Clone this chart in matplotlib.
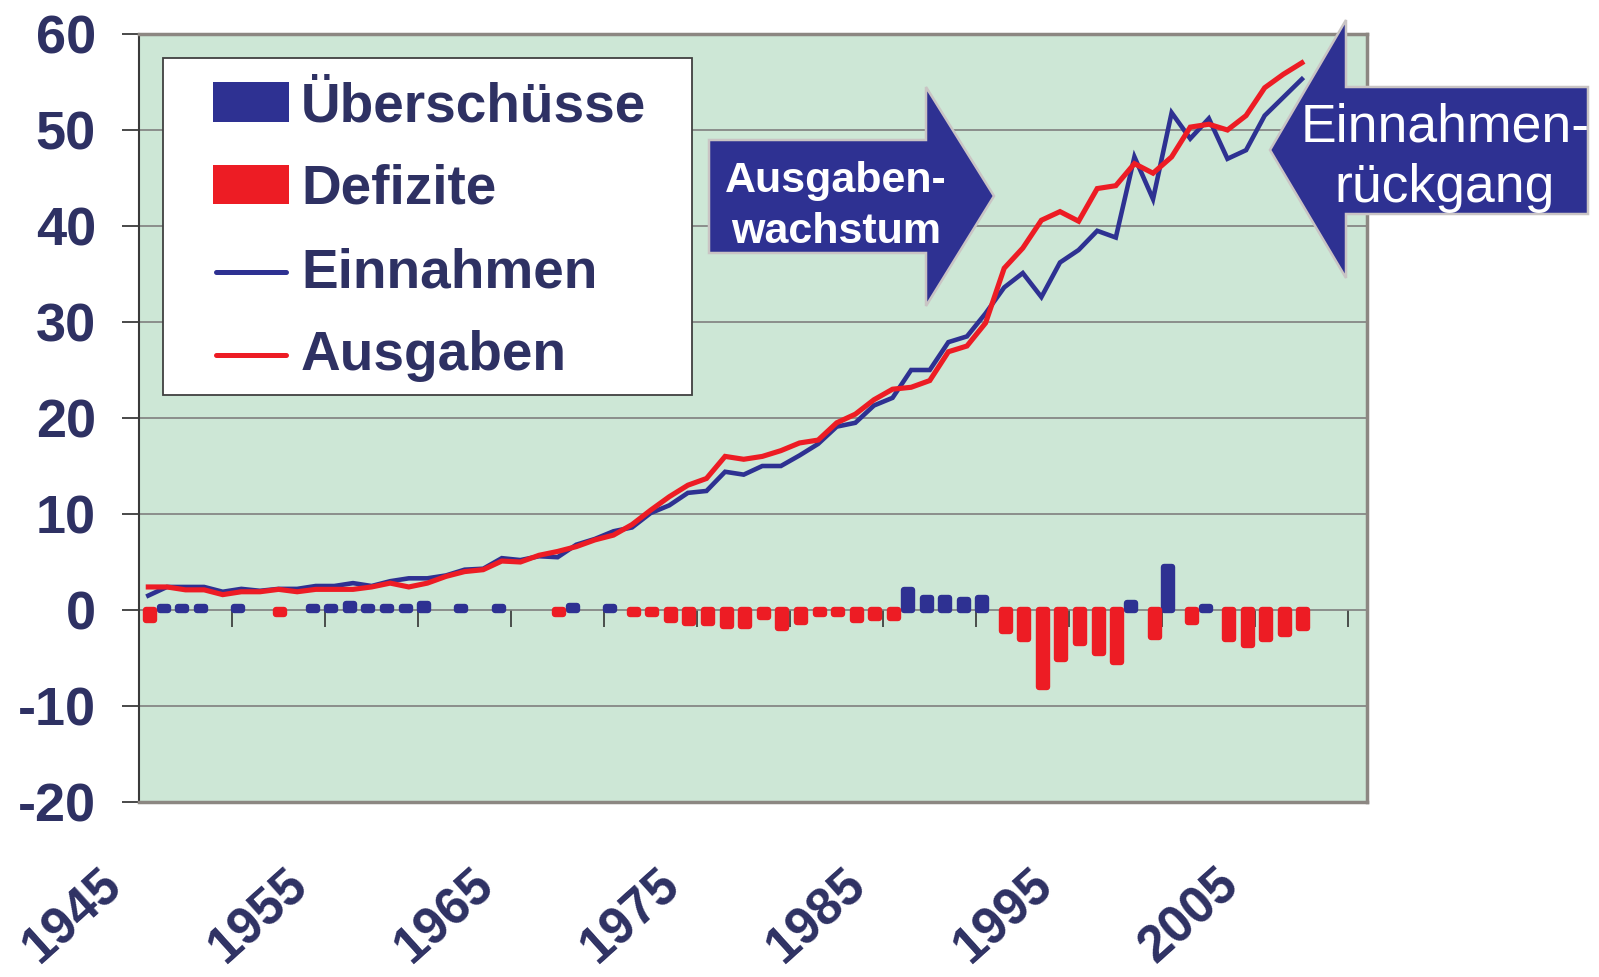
import numpy as np
import matplotlib
matplotlib.use("Agg")
import matplotlib.pyplot as plt
from matplotlib.patches import Polygon, Rectangle
from matplotlib.lines import Line2D
import matplotlib.transforms as mtransforms

plt.rcParams["axes.unicode_minus"] = False

# ---------------- data ----------------
categories = [str(y) for y in range(1945, 2011)]          # 66 category slots
einnahmen = [1.5, 2.4, 2.4, 2.4, 1.9, 2.2, 2.0, 2.2, 2.2, 2.5,
             2.5, 2.8, 2.5, 3.0, 3.3, 3.3, 3.6, 4.2, 4.3, 5.4,
             5.2, 5.6, 5.5, 6.8, 7.4, 8.2, 8.6, 10.1, 10.9, 12.2,
             12.4, 14.4, 14.1, 15.0, 15.0, 16.1, 17.3, 19.1, 19.5, 21.3,
             22.1, 25.0, 25.0, 27.9, 28.5, 30.9, 33.6, 35.1, 32.6, 36.2,
             37.5, 39.5, 38.8, 47.2, 42.8, 51.8, 49.1, 51.2, 47.0, 47.9,
             51.5, 53.4, 55.3]
ausgaben = [2.4, 2.4, 2.1, 2.1, 1.6, 1.9, 1.9, 2.15, 1.9, 2.15,
            2.15, 2.15, 2.4, 2.8, 2.4, 2.8, 3.5, 4.0, 4.2, 5.1,
            5.0, 5.7, 6.1, 6.6, 7.3, 7.8, 8.9, 10.4, 11.8, 13.0,
            13.7, 16.0, 15.7, 16.0, 16.6, 17.4, 17.7, 19.5, 20.4, 21.9,
            23.0, 23.2, 23.9, 26.9, 27.5, 29.9, 35.6, 37.7, 40.6, 41.5,
            40.5, 43.9, 44.2, 46.5, 45.5, 47.2, 50.3, 50.6, 50.0, 51.5,
            54.4, 55.8, 57.0]
n = np.nan
ueberschuesse = [n, 0.3, 0.3, 0.3, n, 0.3, n, n, n, 0.3,
                 0.3, 0.65, 0.3, 0.3, 0.3, 0.65, n, 0.3, n, 0.3,
                 n, n, n, 0.4, n, 0.3, n, n, n, n,
                 n, n, n, n, n, n, n, n, n, n,
                 n, 2.1, 1.3, 1.3, 1.0, 1.3, n, n, n, n,
                 n, n, n, 0.7, n, 4.5, n, 0.3, n, n,
                 n, n, n]
defizite = [-1.0, n, n, n, n, n, n, -0.45, n, n,
            n, n, n, n, n, n, n, n, n, n,
            n, n, -0.45, n, n, n, -0.45, -0.45, -1.0, -1.35,
            -1.35, -1.65, -1.65, -0.75, -1.9, -1.3, -0.45, -0.4, -1.0, -0.8,
            -0.8, n, n, n, n, n, -2.2, -3.05, -8.0, -5.1,
            -3.4, -4.5, -5.4, n, -2.8, n, -1.3, n, -3.05, -3.65,
            -3.05, -2.55, -1.9]
series_names = ["Überschüsse", "Defizite", "Einnahmen", "Ausgaben"]
x_labels = ["1945", "1955", "1965", "1975", "1985", "1995", "2005"]
y_ticks = [-20, -10, 0, 10, 20, 30, 40, 50, 60]
arrow_left_text = ["Ausgaben-", "wachstum"]
arrow_right_text = ["Einnahmen-", "rückgang"]

# ---------------- style ----------------
BLUE = "#2e3192"
RED = "#ed1c24"
NAVY = "#2e3163"
BG = "#cde7d6"
FONT = "Liberation Sans"

W, H = 1599, 977
fig = plt.figure(figsize=(W / 100, H / 100), dpi=100)
fig.patch.set_facecolor("white")
PX = mtransforms.Affine2D().scale(1, -1).translate(0, H)   # top-left pixel coords

left, right, top, bottom = 139, 1367, 34, 802
ax = fig.add_axes([left / W, 1 - bottom / H, (right - left) / W, (bottom - top) / H])
ax.set_facecolor(BG)

x = np.arange(len(einnahmen))
ax.set_xlim(-0.5, len(categories) - 0.5)
ax.set_ylim(y_ticks[0], y_ticks[-1])

# bars
ax.bar(x - 0.17, ueberschuesse, width=0.43, color=BLUE, edgecolor=BLUE,
       linewidth=4.6, joinstyle="round", zorder=3)
ax.bar(x + 0.08, defizite, width=0.43, color=RED, edgecolor=RED,
       linewidth=4.6, joinstyle="round", zorder=3)
# lines
ax.plot(x, einnahmen, color=BLUE, lw=3.3, solid_joinstyle="miter", zorder=4)
ax.plot(x, ausgaben, color=RED, lw=3.7, solid_joinstyle="miter", zorder=5)

# grid / axes
ax.set_yticks(y_ticks)
ax.yaxis.grid(True, color="#7f7f7f", lw=1.2)
ax.set_axisbelow(True)
for s in ["top", "bottom", "right"]:
    ax.spines[s].set_color("#8c8782")
    ax.spines[s].set_linewidth(2.5)
ax.spines["left"].set_color("#3a3a3a")
ax.spines["left"].set_linewidth(1.5)
ax.tick_params(axis="y", length=12, width=1.3, color="#3a3a3a", pad=19,
               labelcolor=NAVY)
for lab in ax.get_yticklabels():
    lab.set_fontfamily(FONT)
    lab.set_fontweight("bold")
    lab.set_fontsize(39)
ax.set_xticks([])

# small category ticks on the zero line
zero_pos = (0 - y_ticks[0]) / (y_ticks[-1] - y_ticks[0])
sec = ax.secondary_xaxis(zero_pos)
sec.set_xticks(np.arange(4.5, len(categories), 5))
sec.tick_params(axis="x", length=12, width=1.2, color="#333333",
                direction="out", labelbottom=False, labeltop=False)
sec.spines["bottom"].set_visible(False)
sec.spines["top"].set_visible(False)

# rotated year labels
lab_trans = mtransforms.blended_transform_factory(ax.transData, ax.transAxes) + \
    mtransforms.ScaledTranslation(-0.33, -0.76, fig.dpi_scale_trans)
for lab in x_labels:
    ax.text(categories.index(lab), 0, lab, transform=lab_trans, rotation=42,
            rotation_mode="anchor", ha="right", va="center", fontsize=37,
            fontweight="bold", family=FONT, color=NAVY, clip_on=False)

# ---------------- legend (drawn as box) ----------------
fig.add_artist(Rectangle((163, 395), 692 - 163, 58 - 395, transform=PX,
                         facecolor="white", edgecolor="#404040", lw=1.3, zorder=6))
fig.add_artist(Rectangle((213, 122), 76, -40, transform=PX, facecolor=BLUE,
                         edgecolor="none", zorder=7))
fig.add_artist(Rectangle((213, 204), 76, -39, transform=PX, facecolor=RED,
                         edgecolor="none", zorder=7))
fig.add_artist(Line2D([216, 286], [272, 272], transform=PX, color=BLUE, lw=3.6,
                      solid_capstyle="round", zorder=7))
fig.add_artist(Line2D([216, 286], [355, 355], transform=PX, color=RED, lw=3.6,
                      solid_capstyle="round", zorder=7))
for name, yb in zip(series_names, [121, 204, 287, 370]):
    fig.text(301, yb, name, transform=PX, ha="left", va="baseline", fontsize=39.6,
             fontweight="bold", family=FONT, color=NAVY, zorder=8)

# ---------------- arrows ----------------
left_arrow = [(709, 140), (926, 140), (926, 87), (994, 196), (926, 306),
              (926, 253), (709, 253)]
right_arrow = [(1270, 150), (1346, 20), (1346, 87), (1588, 87), (1588, 214),
               (1346, 214), (1346, 278)]
for pts in (left_arrow, right_arrow):
    fig.add_artist(Polygon(pts, closed=True, transform=PX, facecolor=BLUE,
                           edgecolor="#c9c4c4", lw=1.8, zorder=6))
for txt, yb in zip(arrow_left_text, [192, 243]):
    fig.text(836, yb, txt, transform=PX, ha="center", va="baseline", fontsize=31,
             fontweight="bold", family=FONT, color="white", zorder=8)
for txt, yb in zip(arrow_right_text, [141, 202]):
    fig.text(1445, yb, txt, transform=PX, ha="center", va="baseline", fontsize=38.5,
             family=FONT, color="white", zorder=8)

fig.savefig("out.png", dpi=100, facecolor="white")
